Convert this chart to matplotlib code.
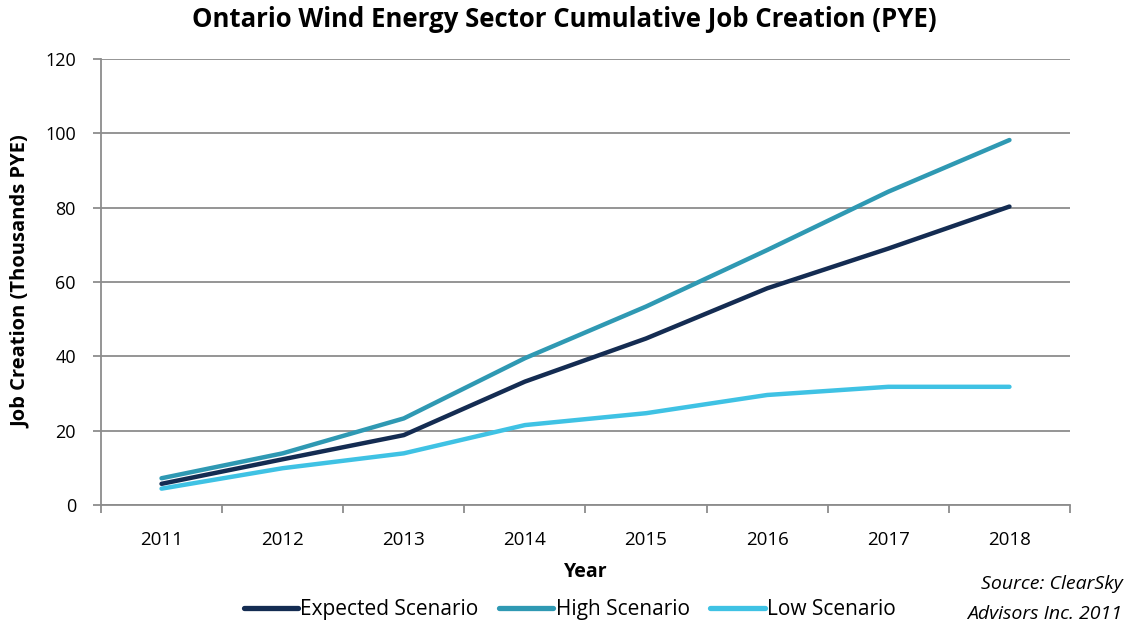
import matplotlib
matplotlib.use("Agg")
import matplotlib.pyplot as plt
import numpy as np

years = ["2011", "2012", "2013", "2014", "2015", "2016", "2017", "2018"]
expected = [5.7, 12.3, 18.8, 33.2, 44.8, 58.3, 69.0, 80.3]
high = [7.2, 13.9, 23.3, 39.5, 53.4, 68.6, 84.3, 98.2]
low = [4.4, 9.9, 13.9, 21.5, 24.7, 29.6, 31.8, 31.8]
series_names = ["Expected Scenario", "High Scenario", "Low Scenario"]
colors = ["#142C52", "#2F99B3", "#3FC2E4"]

plt.rcParams['font.family'] = ['Open Sans', 'DejaVu Sans']

fig = plt.figure(figsize=(11.28, 6.25), dpi=100)
ax = fig.add_axes([0.0895, 0.192, 0.8591, 0.7136])

x = np.arange(len(years))
for vals, name, c in zip([expected, high, low], series_names, colors):
    ax.plot(x, vals, color=c, lw=3.2, solid_capstyle='round', solid_joinstyle='round', label=name, zorder=3)

ax.set_xlim(-0.5, len(years) - 0.5)
ax.set_ylim(0, 120)
ax.set_yticks(np.arange(0, 121, 20))
ax.yaxis.grid(True, color="#8c8c8c", lw=1.3)
ax.set_axisbelow(True)

ax.set_xticks(np.arange(-0.5, len(years), 1.0))
ax.set_xticklabels([])
ax.set_xticks(x, minor=True)
ax.set_xticklabels(years, minor=True)
ax.tick_params(axis='x', which='major', length=6, width=1.3, color="#8c8c8c", direction='out')
ax.tick_params(axis='x', which='minor', length=0, pad=19, labelsize=13.5)
ax.tick_params(axis='y', length=6, width=1.3, color="#8c8c8c", labelsize=13, pad=12)

for s in ['top', 'right']:
    ax.spines[s].set_visible(False)
for s in ['left', 'bottom']:
    ax.spines[s].set_color("#8c8c8c")
    ax.spines[s].set_linewidth(1.3)

ax.set_xlabel("Year", fontsize=14, fontweight='bold', labelpad=9)
ax.set_ylabel("Job Creation (Thousands PYE)", fontsize=14.5, fontweight='bold', labelpad=10)
fig.suptitle("Ontario Wind Energy Sector Cumulative Job Creation (PYE)", fontsize=18.5, fontweight='bold', y=0.99)

leg = fig.legend(loc='center', bbox_to_anchor=(0.505, 0.025), ncol=3, frameon=False,
                 fontsize=15, handlelength=2.6, handletextpad=0.1, columnspacing=1.0)
for line in leg.get_lines():
    line.set_linewidth(3.8)

fig.text(0.995, 0.065, "Source: ClearSky", ha='right', va='center', fontsize=14, style='italic')
fig.text(0.995, 0.018, "Advisors Inc. 2011", ha='right', va='center', fontsize=14, style='italic')

fig.savefig("out.png", dpi=100)
